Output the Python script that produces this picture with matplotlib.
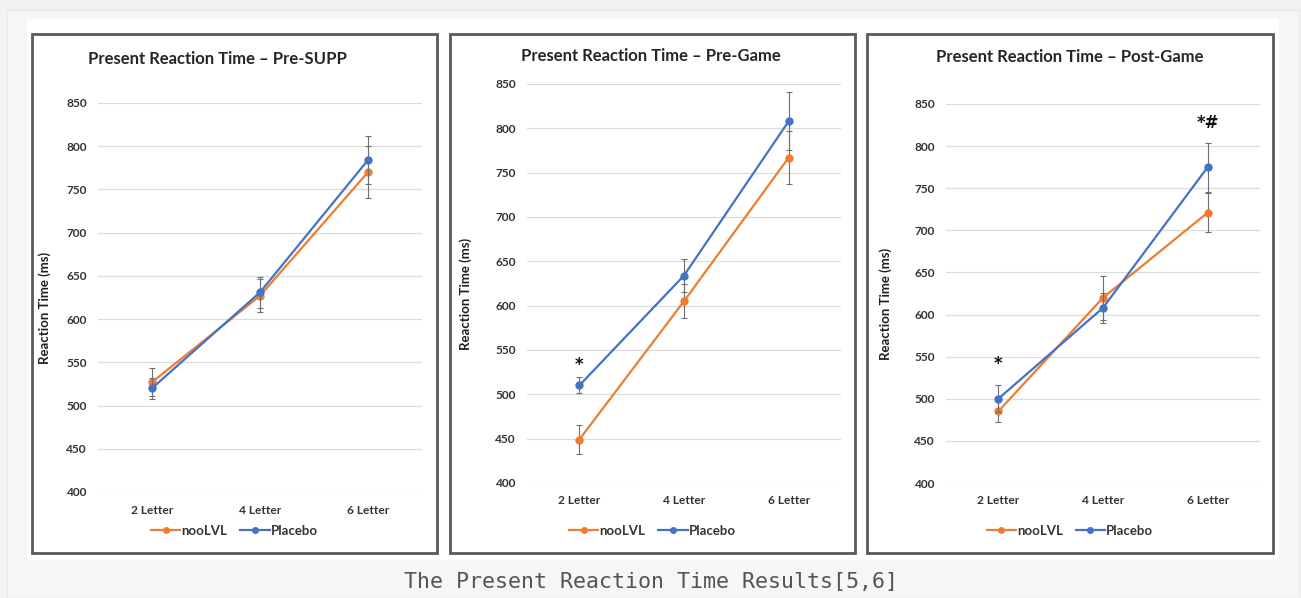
import matplotlib
matplotlib.use('Agg')
import matplotlib.pyplot as plt
from matplotlib.patches import Rectangle
from matplotlib.lines import Line2D

plt.rcParams['font.family'] = ['Lato', 'DejaVu Sans']

categories = ['2 Letter', '4 Letter', '6 Letter']
series_names = ['nooLVL', 'Placebo']
titles = ['Present Reaction Time \u2013 Pre-SUPP',
          'Present Reaction Time \u2013 Pre-Game',
          'Present Reaction Time \u2013 Post-Game']

# mean reaction time (ms) and error bar half-widths
pre_supp_noo = [527, 627, 770]
pre_supp_noo_err = [16, 19, 30]
pre_supp_pla = [520, 631, 784]
pre_supp_pla_err = [12, 18, 28]

pre_game_noo = [449, 605, 767]
pre_game_noo_err = [16, 19, 30]
pre_game_pla = [510, 634, 808]
pre_game_pla_err = [9, 19, 33]

post_game_noo = [485, 620, 721]
post_game_noo_err = [12, 26, 23]
post_game_pla = [500, 608, 775]
post_game_pla_err = [16, 18, 29]

# significance markers: (category index, value, text)
marks_pre_supp = []
marks_pre_game = [(0, 533, '*')]
marks_post_game = [(0, 541, '*'), (2, 827, '*#')]

yticks = [400, 450, 500, 550, 600, 650, 700, 750, 800, 850]

ORANGE = '#ED7D31'
BLUE = '#4472C4'

W, H = 1301, 598
fig = plt.figure(figsize=(W / 100, H / 100), dpi=100, facecolor='#f2f2f2')


def fx(px):
    return px / W


def fy(py):
    return 1 - py / H


# page background layers
fig.patches.append(Rectangle((fx(7), fy(598)), fx(1292), 588 / H, transform=fig.transFigure,
                             facecolor='#f6f6f6', edgecolor='#e9e9e9', lw=1, zorder=0))
fig.patches.append(Rectangle((fx(27), fy(560)), fx(1252), 541 / H, transform=fig.transFigure,
                             facecolor='white', edgecolor='none', zorder=0))

panels = [
    dict(frame=(32, 437), ax=(98, 422, 103, 492), tx=217, ty=59, ylx=45,
         noo=pre_supp_noo, noo_err=pre_supp_noo_err, pla=pre_supp_pla, pla_err=pre_supp_pla_err,
         marks=marks_pre_supp, title=titles[0]),
    dict(frame=(450, 855), ax=(527, 841, 84, 483), tx=651, ty=56, ylx=466,
         noo=pre_game_noo, noo_err=pre_game_noo_err, pla=pre_game_pla, pla_err=pre_game_pla_err,
         marks=marks_pre_game, title=titles[1]),
    dict(frame=(867, 1273), ax=(946, 1260, 104, 483), tx=1070, ty=57, ylx=886,
         noo=post_game_noo, noo_err=post_game_noo_err, pla=post_game_pla, pla_err=post_game_pla_err,
         marks=marks_post_game, title=titles[2]),
]

x = list(range(len(categories)))

for p in panels:
    x0, x1 = p['frame']
    fig.patches.append(Rectangle((fx(x0), fy(553)), fx(x1 - x0), (553 - 34) / H,
                                 transform=fig.transFigure, facecolor='white',
                                 edgecolor='#5a5a5a', lw=2, zorder=1))
    l, r, t, b = p['ax']
    ax = fig.add_axes([fx(l), fy(b), fx(r - l), (b - t) / H])
    ax.set_zorder(2)
    ax.patch.set_alpha(0)

    ax.errorbar(x, p['noo'], yerr=p['noo_err'], color=ORANGE, lw=1.6, marker='o', ms=5,
                ecolor='#6e6e6e', elinewidth=0.8, capsize=2.5, capthick=0.8, zorder=3)
    ax.errorbar(x, p['pla'], yerr=p['pla_err'], color=BLUE, lw=1.6, marker='o', ms=5,
                ecolor='#6e6e6e', elinewidth=0.8, capsize=2.5, capthick=0.8, zorder=4)

    for ci, val, txt in p['marks']:
        ax.text(ci, val, txt, ha='center', va='center', fontsize=12, fontweight='bold',
                color='#111111', family=['DejaVu Sans'])

    ax.set_xlim(-0.5, 2.5)
    ax.set_ylim(400, 850)
    ax.set_yticks(yticks)
    ax.set_xticks(x)
    ax.set_xticklabels(categories)
    ax.grid(axis='y', color='#dcdcdc', lw=0.9)
    ax.set_axisbelow(True)
    for s in ax.spines.values():
        s.set_visible(False)
    ax.tick_params(length=0, labelsize=8.6, colors='#333333', pad=8)
    for lab in ax.get_xticklabels() + ax.get_yticklabels():
        lab.set_fontweight('bold')
    ax.tick_params(axis='x', pad=9)

    fig.text(fx(p['ylx']), fy(b - (b - t) / 2 + 10), 'Reaction Time (ms)', rotation=90,
             ha='center', va='center', fontsize=9.5, fontweight='bold', color='#1e1e1e')
    fig.text(fx(p['tx']), fy(p['ty']), p['title'], ha='center', va='center',
             fontsize=12, fontweight='bold', color='#262626')

    handles = [Line2D([], [], color=ORANGE, lw=1.6, marker='o', ms=4),
               Line2D([], [], color=BLUE, lw=1.6, marker='o', ms=4)]
    leg = fig.legend(handles, series_names, loc='center',
                     bbox_to_anchor=(fx((x0 + x1) / 2), fy(531)), ncol=2, frameon=False,
                     handlelength=2.2, handletextpad=0.1, columnspacing=1.0,
                     prop={'weight': 'bold', 'size': 9.5})
    for tx in leg.get_texts():
        tx.set_color('#333333')

fig.text(0.5, fy(582), 'The Present Reaction Time Results[5,6]', ha='center', va='center',
         family='DejaVu Sans Mono', fontsize=15.6, color='#555555')

fig.savefig('out.png', dpi=100, facecolor=fig.get_facecolor())
